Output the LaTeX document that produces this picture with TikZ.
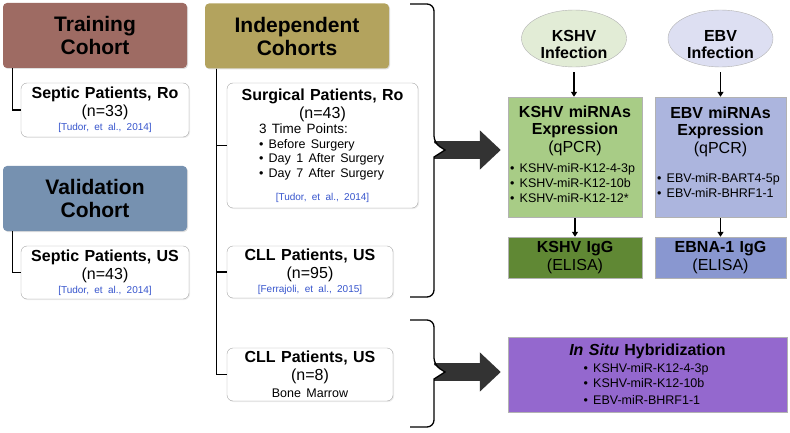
\documentclass[tikz,border=0pt]{standalone}
\usepackage{fontspec}
\setmainfont{Liberation Sans}
\usetikzlibrary{arrows.meta,shapes.geometric,shadows}
\definecolor{traincol}{RGB}{158,107,99}
\definecolor{validcol}{RGB}{118,145,176}
\definecolor{indepcol}{RGB}{179,163,94}
\definecolor{kshvinf}{RGB}{226,236,214}
\definecolor{ebvinf}{RGB}{221,223,242}
\definecolor{kshvmir}{RGB}{168,204,134}
\definecolor{ebvmir}{RGB}{172,181,222}
\definecolor{kshvigg}{RGB}{96,136,52}
\definecolor{ebvigg}{RGB}{137,151,208}
\definecolor{insitu}{RGB}{148,104,206}
\definecolor{citeblue}{RGB}{55,85,205}
\definecolor{arrowgray}{RGB}{51,51,51}
\newcommand{\refnote}[1]{{\color{citeblue}\fontsize{10}{12}\selectfont\frenchspacing #1}}
\newcommand{\mirline}[2]{\makebox[#1][l]{\textbullet{} #2}}

\begin{document}
\begin{tikzpicture}[x=1pt,y=-1pt,
  cohort/.style={rounded corners=4pt,text width=184pt,minimum height=65pt,inner sep=0pt,align=center,
    font=\bfseries\fontsize{21}{23}\selectfont,drop shadow={opacity=0.25,shadow xshift=1pt,shadow yshift=-1pt}},
  patient/.style={draw=gray!70,fill=white,rounded corners=6pt,inner sep=0pt,align=center,
    font=\fontsize{16}{18}\selectfont,drop shadow={opacity=0.15,shadow xshift=1pt,shadow yshift=-1pt}},
  infection/.style={ellipse,draw=gray!60,minimum width=105pt,minimum height=57pt,inner sep=0pt,align=center,
    font=\bfseries\fontsize{16}{17}\selectfont},
  assay/.style={draw=gray!60,inner sep=0pt,align=center,font=\fontsize{16}{17}\selectfont},
  tree/.style={line width=1.3pt},
  brace/.style={line width=1.3pt},
  smallarr/.style={line width=1.3pt,-{Triangle[length=5pt,width=6pt]}},
  bigarr/.style={line width=18pt,draw=arrowgray,-{Triangle[length=21pt,width=38pt]}}]
\useasboundingbox (0,0) rectangle (790,433);

\node[cohort,fill=traincol] (train) at (95,35.5) {Training\\Cohort};
\node[patient,text width=168pt,minimum height=54pt] (sepro) at (105,110) {\textbf{Septic Patients, Ro}\\(n=33)\\[-4pt]\refnote{[Tudor, et al., 2014]}};
\node[cohort,fill=validcol] (valid) at (95,198.5) {Validation\\Cohort};
\node[patient,text width=168pt,minimum height=53pt] (sepus) at (105,272.5) {\textbf{Septic Patients, US}\\(n=43)\\[-4pt]\refnote{[Tudor, et al., 2014]}};
\draw[tree] ([xshift=10pt]train.south west) |- (sepro.west);
\draw[tree] ([xshift=10pt]valid.south west) |- (sepus.west);

\node[cohort,fill=indepcol] (indep) at (297,36) {Independent\\Cohorts};
\node[patient,text width=191pt,minimum height=125pt] (surg) at (322.5,145.5) {\textbf{Surgical Patients, Ro}\\(n=43)\\[0pt]
  \fontsize{13.5}{15}\selectfont\makebox[127pt][l]{3 Time Points:}\\
  \fontsize{12.5}{14.5}\selectfont\mirline{127pt}{Before Surgery}\\\mirline{127pt}{Day 1 After Surgery}\\\mirline{127pt}{Day 7 After Surgery}\\[5pt]
  \refnote{[Tudor, et al., 2014]}};
\node[patient,text width=166pt,minimum height=52pt] (cll1) at (310,272) {\textbf{CLL Patients, US}\\(n=95)\\[-4pt]\refnote{[Ferrajoli, et al., 2015]}};
\node[patient,text width=166pt,minimum height=53pt] (cll2) at (310,374.5) {\textbf{CLL Patients, US}\\(n=8)\\[-1pt]{\fontsize{12.5}{14}\selectfont Bone Marrow}};
\draw[tree] ([xshift=12pt]indep.south west) |- (surg.west);
\draw[tree] ([xshift=12pt]indep.south west) |- (cll1.west);
\draw[tree] ([xshift=12pt]indep.south west) |- (cll2.west);

\node[infection,fill=kshvinf] (kinf) at (574,38.5) {\mbox{}\\[6pt]KSHV\\Infection};
\node[infection,fill=ebvinf] (einf) at (720.5,38.5) {\mbox{}\\[6pt]EBV\\Infection};
\node[assay,fill=kshvmir,text width=134pt,minimum height=120pt] (kmir) at (575,157) {\textbf{KSHV miRNAs}\\\textbf{Expression}\\[1pt](qPCR)\\[5pt]
  \fontsize{12.5}{15}\selectfont\mirline{130pt}{KSHV-miR-K12-4-3p}\\\mirline{130pt}{KSHV-miR-K12-10b}\\\mirline{130pt}{KSHV-miR-K12-12*}\\[-12pt]\mbox{}};
\node[assay,fill=ebvmir,text width=131pt,minimum height=120pt] (emir) at (720.5,157) {\textbf{EBV miRNAs}\\\textbf{Expression}\\[1pt](qPCR)\\[14pt]
  \fontsize{12.5}{15}\selectfont\mirline{127pt}{EBV-miR-BART4-5p}\\\mirline{127pt}{EBV-miR-BHRF1-1}\\[-8pt]\mbox{}};
\node[assay,fill=kshvigg,text width=134pt,minimum height=41pt] (kigg) at (575,257.5) {\textbf{KSHV IgG}\\[1pt](ELISA)};
\node[assay,fill=ebvigg,text width=131pt,minimum height=41pt] (eigg) at (720.5,257.5) {\textbf{EBNA-1 IgG}\\[1pt](ELISA)};
\node[assay,fill=insitu,text width=279pt,minimum height=75pt] (ish) at (647.5,374.5) {\textbf{\textit{In Situ} Hybridization}\\[2pt]
  \fontsize{12.5}{15}\selectfont\mirline{128pt}{KSHV-miR-K12-4-3p}\\\mirline{128pt}{KSHV-miR-K12-10b}\\\mirline{128pt}{EBV-miR-BHRF1-1}};
\draw[smallarr,shorten <=5pt] (kinf) -- (kinf |- kmir.north);
\draw[smallarr,shorten <=5pt] (einf) -- (einf |- emir.north);
\draw[smallarr,shorten <=1pt] (kmir) -- (kigg);
\draw[smallarr,shorten <=1pt] (emir) -- (eigg);

\coordinate (b1root) at (434,150);
\coordinate (b1tip) at (445,150);
\coordinate (b2root) at (434,372);
\coordinate (b2tip) at (445,372);
\draw[bigarr,shorten >=7pt] (b1root) -- (b1root -| kmir.west);
\draw[bigarr,shorten >=7pt] (b2root) -- (b2root -| ish.west);
\fill[white] (434,143) -- (b1tip) -- (434,157) -- cycle;
\fill[white] (434,365) -- (b2tip) -- (434,379) -- cycle;
\draw[brace] (410,4) [rounded corners=7pt] -- (434,4) -- (434,143) [sharp corners] -- (b1tip) -- (434,157) [rounded corners=7pt] -- (434,297) -- (410,297);
\draw[brace] (410,320) [rounded corners=7pt] -- (434,320) -- (434,365) [sharp corners] -- (b2tip) -- (434,379) [rounded corners=7pt] -- (434,427) -- (410,427);
\end{tikzpicture}
\end{document}
